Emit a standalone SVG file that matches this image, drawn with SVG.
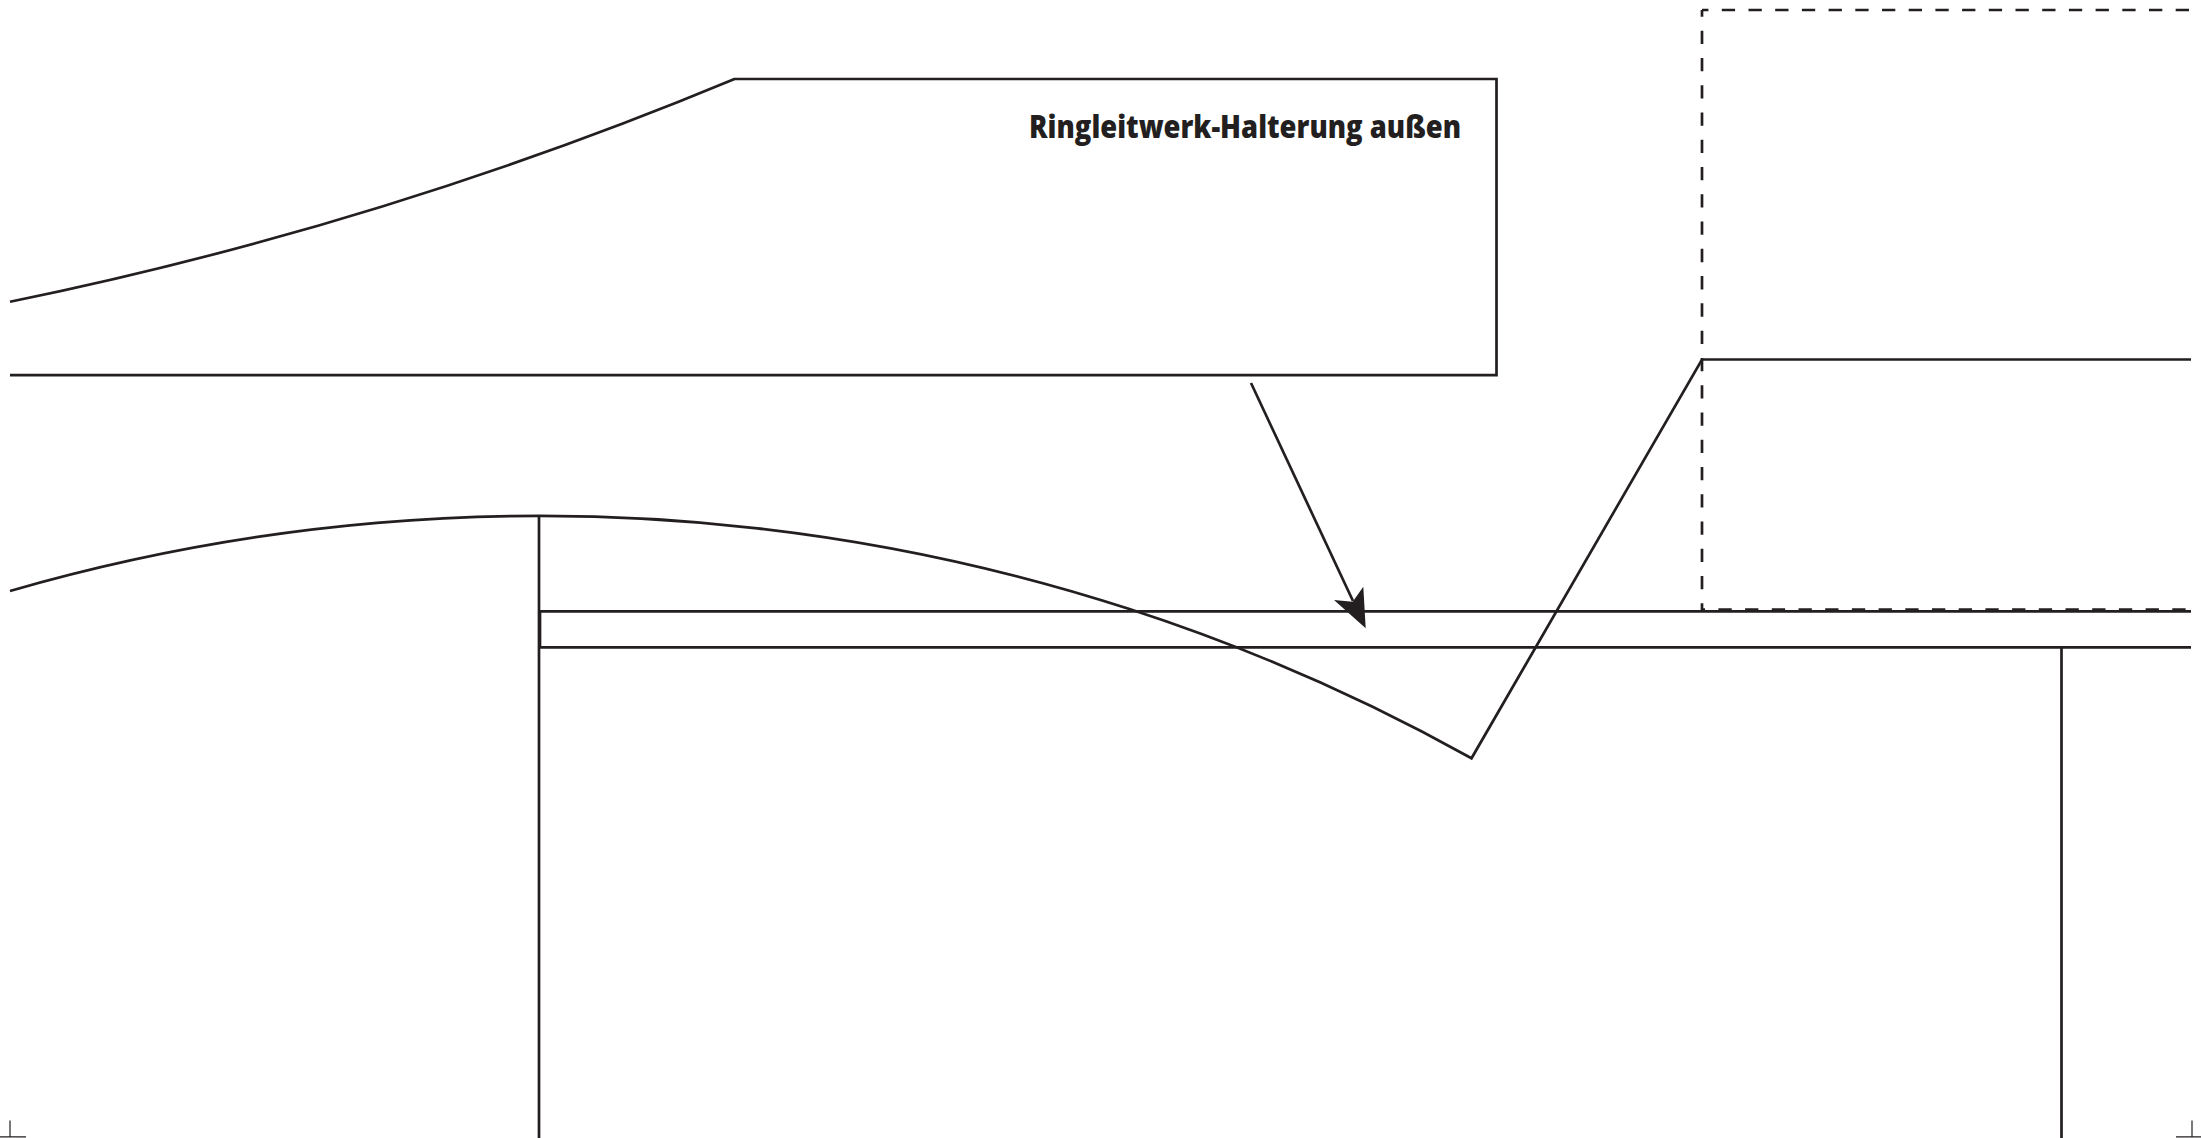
<svg xmlns="http://www.w3.org/2000/svg" width="2201" height="1138" viewBox="0 0 2201 1138">
<style>
.l{fill:none;stroke:#231f20;stroke-width:2.7}
.d{fill:none;stroke:#231f20;stroke-width:2.7;stroke-dasharray:13.3 13.4}
.t{fill:none;stroke:#231f20;stroke-width:1.2}
.label{font-family:"Open Sans","Noto Sans",sans-serif;font-weight:800;font-size:32px;fill:#231f20}
</style>
<rect width="2201" height="1138" fill="#ffffff"/>
<g id="holder">
<path class="l" d="M10 301.8 A3950 3950 0 0 0 734.5 79 H1496.5 V375.2 H10"/>
<text class="label" x="1029" y="138" textLength="432" lengthAdjust="spacingAndGlyphs">Ringleitwerk-Halterung außen</text>
</g>
<g id="dashed-box">
<path class="d" stroke-dashoffset="6.9" d="M1702 10 H2191"/>
<path class="d" stroke-dashoffset="6.6" style="stroke-dasharray:13.3 13.97" d="M1702 10 V610"/>
<path class="d" stroke-dashoffset="10.3" d="M1702 609.5 H2191"/>
</g>
<g id="vane">
<path class="l" d="M10 591 A1910 1910 0 0 1 1471.5 758.3 L1702 359.5 H2191"/>
</g>
<g id="ring">
<path class="l" d="M539 515.5 V1138"/>
<path class="l" d="M2191 611.4 H540 V647.3 H2191"/>
<path class="l" d="M2061.5 647 V1138"/>
</g>
<g id="connectors">
<path class="l" d="M1251 383 L1353 601"/>
<path fill="#231f20" d="M1365.7 628.3 L1334 600 L1352.7 601.7 L1363.3 586.7 Z"/>
</g>
<g id="crop-marks">
<path class="t" d="M10 1120.5 V1137 M0 1136.8 H26 M2192 1120.5 V1137 M2176 1136.8 H2201"/>
</g>
</svg>
